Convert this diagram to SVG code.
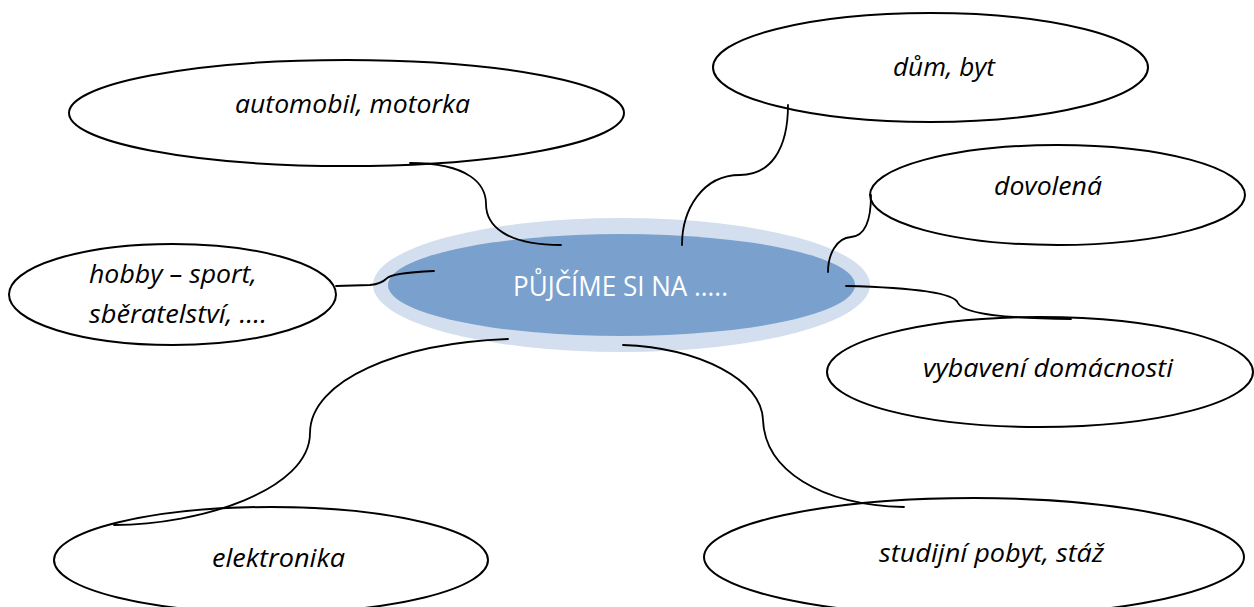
<svg xmlns="http://www.w3.org/2000/svg" width="1254" height="607" viewBox="0 0 1254 607">
  <style>
    .bubble { fill: #ffffff; stroke: #000000; stroke-width: 2; }
    .label { font-family: "Open Sans", "Liberation Sans", sans-serif; font-style: italic; font-size: 26px; fill: #000000; }
    .title { font-family: "Open Sans", "Liberation Sans", sans-serif; font-size: 27px; fill: #ffffff; }
    .link { fill: none; stroke: #000000; stroke-width: 1.8; stroke-linecap: round; }
  </style>
  <rect width="1254" height="607" fill="#ffffff"/>

  <g id="center">
    <ellipse cx="621.5" cy="285" rx="248.5" ry="67" fill="#d3dfee"/>
    <ellipse cx="621.5" cy="285" rx="233.5" ry="51" fill="#7aa0cd"/>
    <text class="title" x="513" y="296" textLength="215" lengthAdjust="spacingAndGlyphs">PŮJČÍME SI NA …..</text>
  </g>

  <g id="node-automobil">
    <ellipse class="bubble" cx="346.5" cy="113" rx="277.5" ry="53"/>
    <text class="label" x="235" y="113" textLength="235" lengthAdjust="spacingAndGlyphs">automobil, motorka</text>
  </g>

  <g id="node-dum">
    <ellipse class="bubble" cx="930.5" cy="67.5" rx="217.5" ry="54.5"/>
    <text class="label" x="893" y="76" textLength="102" lengthAdjust="spacingAndGlyphs">dům, byt</text>
  </g>

  <g id="node-dovolena">
    <ellipse class="bubble" cx="1057.5" cy="195" rx="187.5" ry="50"/>
    <text class="label" x="994" y="195" textLength="108" lengthAdjust="spacingAndGlyphs">dovolená</text>
  </g>

  <g id="node-hobby">
    <ellipse class="bubble" cx="172.5" cy="294.5" rx="163.5" ry="50.5"/>
    <text class="label" x="89" y="283" textLength="168" lengthAdjust="spacingAndGlyphs">hobby – sport,</text>
    <text class="label" x="89" y="323" textLength="178" lengthAdjust="spacingAndGlyphs">sběratelství, ….</text>
  </g>

  <g id="node-vybaveni">
    <ellipse class="bubble" cx="1040" cy="372" rx="213" ry="55"/>
    <text class="label" x="923" y="377" textLength="250" lengthAdjust="spacingAndGlyphs">vybavení domácnosti</text>
  </g>

  <g id="node-elektronika">
    <ellipse class="bubble" cx="271" cy="560" rx="217" ry="53"/>
    <text class="label" x="212" y="567" textLength="133" lengthAdjust="spacingAndGlyphs">elektronika</text>
  </g>

  <g id="node-studijni">
    <ellipse class="bubble" cx="974" cy="557" rx="270" ry="59"/>
    <text class="label" x="879" y="562" textLength="225" lengthAdjust="spacingAndGlyphs">studijní pobyt, stáž</text>
  </g>

  <g id="connectors">
    <path class="link" d="M410,163 C470,163 486,185 486,204 C486,225 505,245 561,245"/>
    <path class="link" d="M788,105 C788,150 770,175 740,175 C702,175 682,210 682,245"/>
    <path class="link" d="M871,195 C871,220 866,236 851,237 C836,238 828,255 828,272"/>
    <path class="link" d="M336,286 L370,285 C380,284 383,282 386,279 C390,274 410,272 434,271"/>
    <path class="link" d="M846,286 C930,288 955,295 958,303 C962,312 990,318 1071,319"/>
    <path class="link" d="M508,339 C400,343 310,380 310,433 C310,490 200,525 114,525"/>
    <path class="link" d="M623,345 C700,348 762,380 763,420 C765,470 820,505 904,507"/>
  </g>
</svg>
